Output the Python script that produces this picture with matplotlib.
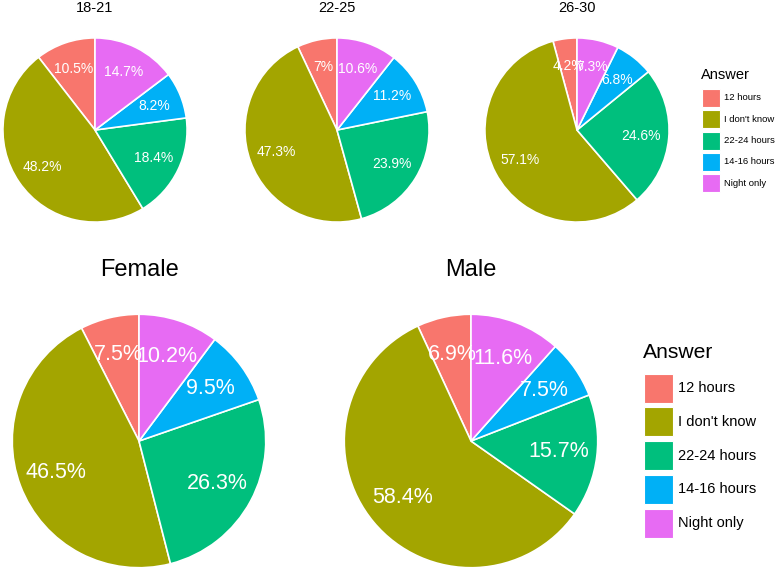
import matplotlib

matplotlib.use('Agg')
import numpy as np
import matplotlib.pyplot as plt
from matplotlib.patches import Rectangle

plt.rcParams['font.family'] = ['Liberation Sans', 'DejaVu Sans']

answers = ['12 hours', "I don't know", '22-24 hours', '14-16 hours', 'Night only']
colors = ['#F8766D', '#A3A500', '#00BF7D', '#00B0F6', '#E76BF3']

age_groups = ['18-21', '22-25', '26-30']
age_18_21 = [10.5, 48.2, 18.4, 8.2, 14.7]
age_22_25 = [7.0, 47.3, 23.9, 11.2, 10.6]
age_26_30 = [4.2, 57.1, 24.6, 6.8, 7.3]

genders = ['Female', 'Male']
female = [7.5, 46.5, 26.3, 9.5, 10.2]
male = [6.9, 58.4, 15.7, 7.5, 11.6]

W, H = 777, 570


def pie_axes(fig, cx, cy, r):
    # cx, cy, r in pixels, cy measured from top
    return fig.add_axes([(cx - r) / W, (H - cy - r) / H, 2 * r / W, 2 * r / H])


def draw_pie(ax, values, title, label_size, title_size, title_off):
    wedges, _ = ax.pie(values, colors=colors, startangle=90, counterclock=True,
                       radius=1, wedgeprops=dict(edgecolor='white', linewidth=1.2))
    for w, v in zip(wedges, values):
        ang = np.deg2rad((w.theta1 + w.theta2) / 2)
        ax.text(0.7 * np.cos(ang), 0.7 * np.sin(ang), f'{v:g}%',
                ha='center', va='center', color='white', fontsize=label_size)
    ax.set_xlim(-1.01, 1.01)
    ax.set_ylim(-1.01, 1.01)
    ax.text(0.5, 1 + title_off, title, transform=ax.transAxes,
            ha='center', va='center', fontsize=title_size)
    ax.axis('off')


def draw_legend(fig, x, title_y, first_y, key, step, fs, title_fs, gap):
    # positions in pixels from top-left
    fig.text(x / W, 1 - title_y / H, 'Answer', ha='left', va='center',
             fontsize=title_fs)
    for i, (lab, c) in enumerate(zip(answers, colors)):
        top = first_y + i * step
        fig.add_artist(Rectangle(((x + 1) / W, 1 - (top + key) / H), key / W, key / H,
                                 facecolor=c, edgecolor='white', linewidth=0.8,
                                 transform=fig.transFigure))
        fig.text((x + 1 + key + gap) / W, 1 - (top + key / 2) / H, lab,
                 ha='left', va='center', fontsize=fs)


fig = plt.figure(figsize=(W / 100, H / 100), dpi=100)

top_centers = [95, 337, 577]
for cx, title, vals in zip(top_centers, age_groups, [age_18_21, age_22_25, age_26_30]):
    ax = pie_axes(fig, cx, 130, 93)
    draw_pie(ax, vals, title, 10, 10.5, (130 - 93 - 8) / 186)

bottom_centers = [139, 471]
for cx, title, vals in zip(bottom_centers, genders, [female, male]):
    ax = pie_axes(fig, cx, 441, 128)
    draw_pie(ax, vals, title, 15.5, 17, (441 - 128 - 270) / 256)

draw_legend(fig, 701, 75, 89, 18, 21.25, 6.8, 10.5, 4)
draw_legend(fig, 642.5, 352.5, 373.5, 29, 33.75, 10.5, 15.2, 5)

fig.savefig('out.png', dpi=100)
